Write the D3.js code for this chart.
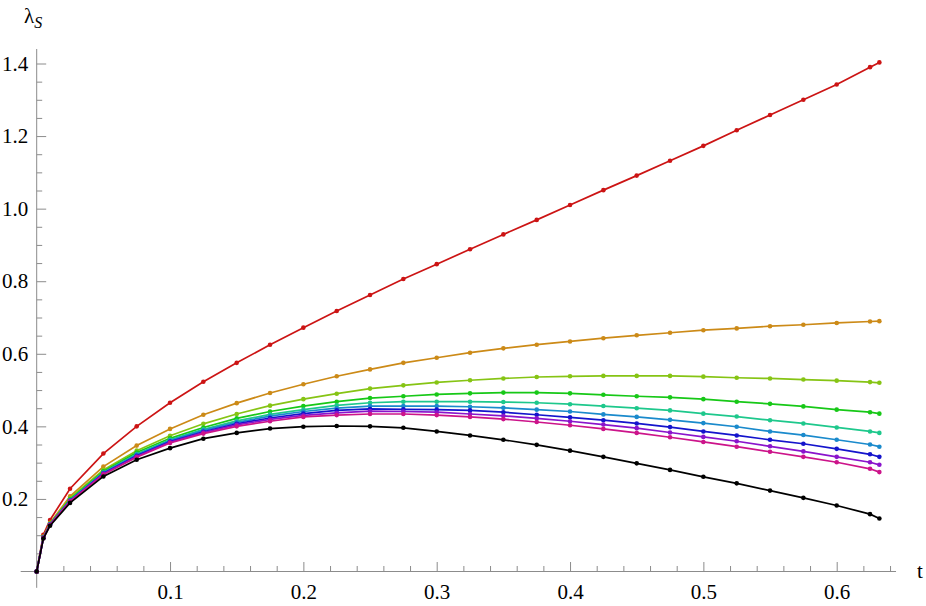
<!DOCTYPE html>
<html>
<head>
<meta charset="utf-8">
<script src="https://cdn.jsdelivr.net/npm/d3@7"></script>
<style>
  body { margin: 0; background: #fff; }
</style>
</head>
<body>
<script>
// sample times along t
var tValues = [0, 0.005, 0.01, 0.025, 0.05, 0.075, 0.1, 0.125, 0.15, 0.175, 0.2, 0.225, 0.25,
  0.275, 0.3, 0.325, 0.35, 0.375, 0.4, 0.425, 0.45, 0.475, 0.5, 0.525, 0.55, 0.575, 0.6, 0.625, 0.632];

// lambda_S for each curve
var lamRed = [0, 0.101, 0.142, 0.228, 0.325, 0.400, 0.465, 0.523, 0.575, 0.625, 0.672, 0.718, 0.762,
  0.806, 0.847, 0.888, 0.929, 0.969, 1.010, 1.051, 1.091, 1.132, 1.173, 1.216, 1.258, 1.300, 1.342, 1.390, 1.403];
var lamOrange = [0, 0.096, 0.134, 0.207, 0.289, 0.347, 0.393, 0.432, 0.464, 0.492, 0.516, 0.538, 0.557,
  0.575, 0.589, 0.603, 0.615, 0.625, 0.634, 0.643, 0.651, 0.658, 0.665, 0.670, 0.676, 0.680, 0.685, 0.689, 0.690];
var lamYellowGreen = [0, 0.095, 0.132, 0.202, 0.280, 0.333, 0.374, 0.407, 0.434, 0.457, 0.475, 0.490, 0.504,
  0.513, 0.521, 0.527, 0.532, 0.536, 0.538, 0.539, 0.539, 0.539, 0.537, 0.534, 0.532, 0.529, 0.526, 0.522, 0.520];
var lamGreen = [0, 0.094, 0.131, 0.199, 0.276, 0.328, 0.367, 0.397, 0.422, 0.441, 0.456, 0.468, 0.478,
  0.483, 0.488, 0.491, 0.493, 0.493, 0.491, 0.487, 0.483, 0.480, 0.475, 0.468, 0.462, 0.455, 0.446, 0.439, 0.435];
var lamTeal = [0, 0.094, 0.130, 0.197, 0.273, 0.324, 0.363, 0.392, 0.415, 0.433, 0.446, 0.458, 0.465,
  0.468, 0.468, 0.468, 0.467, 0.465, 0.461, 0.456, 0.450, 0.444, 0.435, 0.427, 0.417, 0.408, 0.397, 0.386, 0.382];
var lamSky = [0, 0.093, 0.130, 0.196, 0.272, 0.322, 0.361, 0.389, 0.411, 0.428, 0.441, 0.450, 0.456,
  0.456, 0.456, 0.454, 0.451, 0.446, 0.441, 0.433, 0.426, 0.418, 0.409, 0.399, 0.386, 0.376, 0.363, 0.350, 0.344];
var lamBlue = [0, 0.093, 0.129, 0.195, 0.270, 0.319, 0.358, 0.385, 0.407, 0.423, 0.435, 0.444, 0.448,
  0.447, 0.446, 0.444, 0.439, 0.432, 0.425, 0.417, 0.408, 0.398, 0.386, 0.375, 0.363, 0.352, 0.338, 0.323, 0.316];
var lamPurple = [0, 0.093, 0.129, 0.194, 0.269, 0.317, 0.356, 0.383, 0.404, 0.419, 0.430, 0.437, 0.442,
  0.441, 0.439, 0.434, 0.429, 0.422, 0.414, 0.405, 0.395, 0.383, 0.371, 0.359, 0.345, 0.331, 0.316, 0.301, 0.294];
var lamMagenta = [0, 0.092, 0.128, 0.193, 0.267, 0.315, 0.354, 0.380, 0.400, 0.414, 0.426, 0.431, 0.434,
  0.434, 0.431, 0.426, 0.420, 0.412, 0.403, 0.393, 0.382, 0.370, 0.357, 0.344, 0.330, 0.316, 0.301, 0.283, 0.274];
var lamBlack = [0, 0.091, 0.126, 0.189, 0.262, 0.308, 0.340, 0.366, 0.382, 0.394, 0.399, 0.401, 0.400,
  0.396, 0.386, 0.375, 0.363, 0.349, 0.333, 0.316, 0.298, 0.280, 0.261, 0.243, 0.223, 0.203, 0.182, 0.158, 0.146];

var seriesList = [lamRed, lamOrange, lamYellowGreen, lamGreen, lamTeal, lamSky, lamBlue, lamPurple, lamMagenta, lamBlack];
var seriesColors = ["#cc1414", "#cc8a17", "#86c414", "#17c817", "#1ec88c", "#1a8acc", "#1414cc", "#8a14cc", "#cc148a", "#000000"];

// tick values
var xMajor = [0.1, 0.2, 0.3, 0.4, 0.5, 0.6];
var yMajor = [0.2, 0.4, 0.6, 0.8, 1.0, 1.2, 1.4];

var width = 926,
    height = 606;
var serifFont = "'Liberation Serif', 'Times New Roman', Times, 'DejaVu Serif', serif";

var svg = d3.select("body").append("svg")
    .attr("width", width)
    .attr("height", height);

// scales
var x = d3.scaleLinear().domain([0, 0.6]).range([36.7, 836.7]);
var y = d3.scaleLinear().domain([0, 1.4]).range([571.5, 63.5]);

var xMinor = d3.range(0, 0.645, 0.02).filter(function(d) { return Math.abs(d * 10 - Math.round(d * 10)) > 1e-6; });
var yMinor = d3.range(0, 1.44, 0.05).filter(function(d) { return Math.abs(d * 5 - Math.round(d * 5)) > 1e-6; });

var axisColor = "#8c8c8c";

function styleLabels(g) {
  g.select(".domain").remove();
  g.selectAll("line").attr("stroke", axisColor);
  g.selectAll("text")
      .style("font-family", serifFont)
      .style("font-size", "21px")
      .attr("fill", "#000");
}

// x axis: ticks point up, labels below
var gx = svg.append("g").attr("transform", "translate(0," + y(0) + ")");
gx.append("line")
    .attr("x1", x(-0.012)).attr("x2", x(0.6445))
    .attr("stroke", axisColor);
gx.append("g")
    .call(d3.axisBottom(x).tickValues(xMinor).tickSize(-5.5).tickSizeOuter(0).tickFormat(""))
  .call(function(g) { g.select(".domain").remove(); g.selectAll("line").attr("stroke", axisColor); });
gx.append("g")
    .call(d3.axisBottom(x).tickValues(xMajor).tickSize(-9.5).tickSizeOuter(0).tickPadding(13)
      .tickFormat(d3.format(".1f")))
  .call(styleLabels);

// y axis: ticks point right, labels left
var gy = svg.append("g").attr("transform", "translate(" + x(0) + ",0)");
gy.append("line")
    .attr("y1", y(-0.045)).attr("y2", y(1.44))
    .attr("stroke", axisColor);
gy.append("g")
    .call(d3.axisLeft(y).tickValues(yMinor).tickSize(-5.5).tickSizeOuter(0).tickFormat(""))
  .call(function(g) { g.select(".domain").remove(); g.selectAll("line").attr("stroke", axisColor); });
gy.append("g")
    .call(d3.axisLeft(y).tickValues(yMajor).tickSize(-9.5).tickSizeOuter(0).tickPadding(8.5)
      .tickFormat(d3.format(".1f")))
  .call(styleLabels);

// axis labels
svg.append("text")
    .attr("x", 917).attr("y", 578)
    .style("font-family", serifFont)
    .style("font-size", "21px")
    .text("t");

var ylab = svg.append("text")
    .attr("x", 24).attr("y", 23)
    .style("font-family", serifFont)
    .style("font-size", "21px");
ylab.append("tspan").text("λ");
ylab.append("tspan").attr("font-style", "italic").style("font-size", "16px").attr("dy", 5).text("S");

// curves
var line = d3.line()
    .x(function(d, i) { return x(tValues[i]); })
    .y(function(d) { return y(d); });

var curves = svg.append("g").selectAll("g")
    .data(seriesList)
  .enter().append("g")
    .attr("fill", function(d, i) { return seriesColors[i]; })
    .attr("stroke", function(d, i) { return seriesColors[i]; });

curves.append("path")
    .attr("d", line)
    .attr("fill", "none")
    .attr("stroke-width", 1.7);

curves.selectAll("circle")
    .data(function(d) { return d; })
  .enter().append("circle")
    .attr("cx", function(d, i) { return x(tValues[i]); })
    .attr("cy", function(d) { return y(d); })
    .attr("r", 2.3)
    .attr("stroke", "none");
</script>
</body>
</html>
